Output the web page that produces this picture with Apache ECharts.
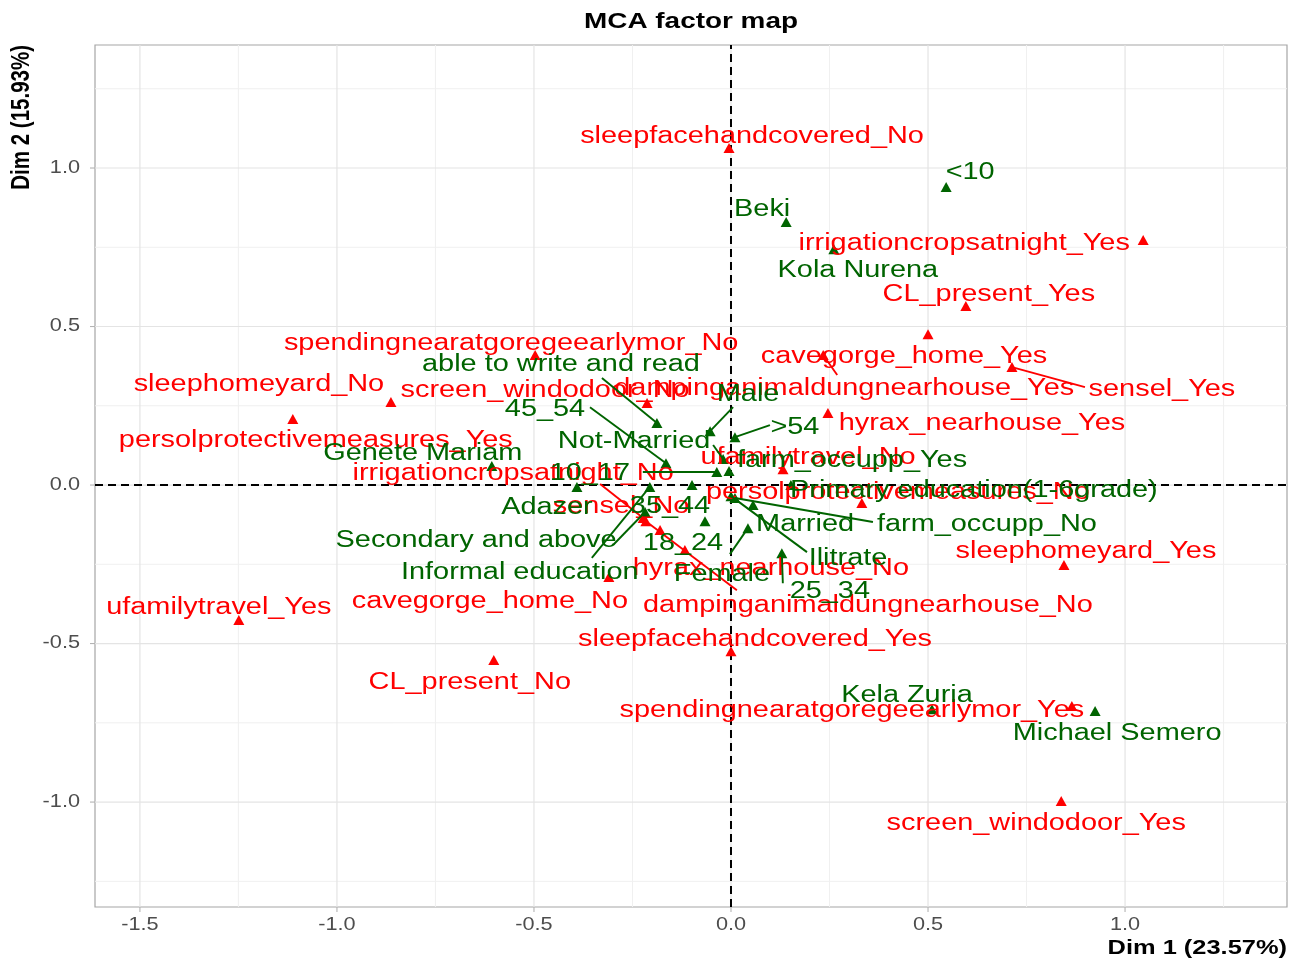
<!DOCTYPE html>
<html>
<head>
<meta charset="utf-8">
<title>MCA factor map</title>
<script src="https://cdn.jsdelivr.net/npm/echarts@6/dist/echarts.min.js"></script>
<style>
  html, body { margin: 0; padding: 0; background: #ffffff; }
  #main { width: 1303px; height: 961px; }
</style>
</head>
<body>
<div id="main"></div>
<script>
// Active variable categories (coordinates on Dim 1 / Dim 2)
const activeNames = [
  'sleepfacehandcovered_No', 'irrigationcropsatnight_Yes', 'CL_present_Yes', 'cavegorge_home_Yes',
  'spendingnearatgoregeearlymor_No', 'dampinganimaldungnearhouse_Yes', 'sensel_Yes', 'sleephomeyard_No',
  'screen_windodoor_No', 'hyrax_nearhouse_Yes', 'persolprotectivemeasures_Yes', 'ufamilytravel_No',
  'persolprotectivemeasures_No', 'sleephomeyard_Yes', 'irrigationcropsatnight_No', 'dampinganimaldungnearhouse_No',
  'sensel_No', 'hyrax_nearhouse_No', 'cavegorge_home_No', 'ufamilytravel_Yes',
  'sleepfacehandcovered_Yes', 'CL_present_No', 'spendingnearatgoregeearlymor_Yes', 'screen_windodoor_Yes'
];
const activeDim1 = [
  -0.005, 1.046, 0.596, 0.500,
  -0.497, 0.234, 0.713, -0.863,
  -0.213, 0.246, -1.112, 0.132,
  0.332, 0.845, -0.223, -0.216,
  -0.180, -0.117, -0.310, -1.249,
  0.000, -0.602, 0.865, 0.838
];
const activeDim2 = [
  1.063, 0.773, 0.565, 0.476,
  0.410, 0.410, 0.372, 0.262,
  0.259, 0.227, 0.208, 0.050,
  -0.057, -0.252, -0.104, -0.114,
  -0.142, -0.205, -0.290, -0.426,
  -0.524, -0.552, -0.697, -0.997
];

// Supplementary categories
const suppNames = [
  '<10', 'Beki', 'Kola Nurena', 'able to write and read',
  'Male', '>54', '45_54', 'Not-Married',
  'Genete Mariam', '10_17', 'farm_occupp_Yes', 'Adazer',
  'Informal education', '35_44', 'Primary education(1-6grade)', 'Secondary and above',
  '18_24', 'Ilitrate', 'farm_occupp_No', 'Married',
  'Female', '25_34', 'Kela Zuria', 'Michael Semero'
];
const suppDim1 = [
  0.546, 0.140, 0.261, -0.188,
  -0.053, 0.010, -0.165, -0.020,
  -0.607, -0.036, -0.005, -0.391,
  -0.206, -0.099, 0.152, -0.218,
  -0.066, 0.000, 0.010, 0.056,
  0.043, 0.129, 0.510, 0.924
];
const suppDim2 = [
  0.940, 0.830, 0.744, 0.196,
  0.170, 0.151, 0.069, 0.082,
  0.060, 0.041, 0.044, -0.006,
  -0.006, 0.000, 0.000, -0.085,
  -0.114, -0.035, -0.041, -0.063,
  -0.136, -0.215, -0.707, -0.713
];

// Axis ticks
const xTicks = [-1.5, -1.0, -0.5, 0.0, 0.5, 1.0];
const yTicks = [-1.0, -0.5, 0.0, 0.5, 1.0];
const xMinorTicks = [-1.25, -0.75, -0.25, 0.25, 0.75, 1.25];
const yMinorTicks = [-1.25, -0.75, -0.25, 0.25, 0.75, 1.25];

// Axis extents and titles
const X_MIN = -1.614, X_MAX = 1.411;
const Y_MIN = -1.331, Y_MAX = 1.388;
const chartTitle = 'MCA factor map';
const xTitle = 'Dim 1 (23.57%)';
const yTitle = 'Dim 2 (15.93%)';

// Repelled label placement in px relative to each point:
// [label dx, label dy, (segment end dx, segment end dy)]
const activeLabelPos = [
  [23, -13], [-179, 2], [23, -13], [-24, 20],
  [-24, -13], [21, 32, 14, 20], [150, 20, 73, 20], [-132, -19],
  [-102, -14], [154, 9], [23, 19], [25, -14],
  [36, -13], [22, -15], [-130, -46, -43, -34], [222, 82, 91, 69],
  [-39, -25], [86, 17], [-119, 23], [-20, -15],
  [24, -14], [-24, 21], [-220, 3], [-25, 20]
];
const suppLabelPos = [
  [24, -16], [-24, -14], [24, 19], [-96, -60, -55, -45],
  [38, -39, 23, -24], [60, -12, 35, -12], [-121, -56, -76, -56], [-89, -19, -10, -14],
  [-69, -14], [-127, 0, -74, 0], [123, -13], [-30, 19],
  [-130, 84, -58, 71], [-22, 20], [183, 4], [-169, 27, -32, 33],
  [-22, 20], [117, 60, 76, 56], [252, 25, 138, 24], [52, 18],
  [-26, 44, -18, 26], [48, 36, 1, 30], [-25, -16], [22, 20]
];

const RED = '#ff0000';
const GREEN = '#006400';
const FONT = "'Liberation Sans', Arial, Helvetica, sans-serif";
const SX = 1.24;          // horizontal text stretch
const LABEL_SIZE = 23.3;
const TICK_SIZE = 17.5;
const LABEL_BASE_SHIFT = 2;

function labelSeries(names, xs, ys, pos, color, z) {
  return {
    type: 'custom',
    coordinateSystem: 'cartesian2d',
    silent: true,
    z: z,
    clip: false,
    data: names.map((n, i) => [xs[i], ys[i], i]),
    renderItem: function (params, api) {
      const i = api.value(2);
      const p = api.coord([api.value(0), api.value(1)]);
      const L = pos[i];
      const children = [];
      if (L.length > 2) {
        children.push({
          type: 'line',
          shape: { x1: p[0], y1: p[1], x2: p[0] + L[2], y2: p[1] + L[3] },
          style: { stroke: color, lineWidth: 1.9 }
        });
      }
      children.push({
        type: 'text',
        x: p[0] + L[0],
        y: p[1] + L[1] + LABEL_BASE_SHIFT,
        scaleX: SX,
        style: {
          text: names[i], x: 0, y: 0,
          fill: color, fontSize: LABEL_SIZE, fontFamily: FONT,
          align: 'center', verticalAlign: 'middle',
          textAlign: 'center', textVerticalAlign: 'middle'
        }
      });
      return { type: 'group', children: children };
    }
  };
}

function fmt(v) { return v.toFixed(1); }

// Panel grid lines (kind 0: vertical, 1: horizontal; weight 0 minor, 1 major, 2 origin)
const gridItems = []
  .concat(xMinorTicks.map(v => [v, 0, 0, 0]))
  .concat(yMinorTicks.map(v => [0, v, 1, 0]))
  .concat(xTicks.map(v => [v, 0, 0, 1]))
  .concat(yTicks.map(v => [0, v, 1, 1]))
  .concat([[0, 0, 0, 2], [0, 0, 1, 2]]);

const gridSeries = {
  type: 'custom',
  coordinateSystem: 'cartesian2d',
  silent: true,
  clip: false,
  z: 1,
  data: gridItems,
  renderItem: function (params, api) {
    const vert = api.value(2) === 0;
    const w = api.value(3);
    let a, b;
    if (vert) {
      a = api.coord([api.value(0), Y_MIN]);
      b = api.coord([api.value(0), Y_MAX]);
    } else {
      a = api.coord([X_MIN, api.value(1)]);
      b = api.coord([X_MAX, api.value(1)]);
    }
    let style;
    if (w === 0) style = { stroke: '#f0f0f0', lineWidth: 1 };
    else if (w === 1) style = { stroke: '#e4e4e4', lineWidth: 1.2 };
    else style = { stroke: '#000000', lineWidth: 2, lineDash: [8, 5] };
    return {
      type: 'line',
      z2: w,
      shape: { x1: a[0], y1: a[1], x2: b[0], y2: b[1] },
      style: style
    };
  }
};

// Tick marks and tick labels outside the panel
const tickItems = xTicks.map(v => [v, Y_MIN, 0]).concat(yTicks.map(v => [X_MIN, v, 1]));
const axisDecor = {
  type: 'custom',
  coordinateSystem: 'cartesian2d',
  silent: true,
  clip: false,
  z: 5,
  data: tickItems,
  renderItem: function (params, api) {
    const kind = api.value(2);
    const p = api.coord([api.value(0), api.value(1)]);
    if (kind === 0) {
      return {
        type: 'group', children: [
          { type: 'line', shape: { x1: p[0], y1: p[1], x2: p[0], y2: p[1] + 5 }, style: { stroke: '#b3b3b3', lineWidth: 1.1 } },
          { type: 'text', x: p[0], y: p[1] + 18, scaleX: SX,
            style: { text: fmt(api.value(0)), x: 0, y: 0, fill: '#4d4d4d', fontSize: TICK_SIZE, fontFamily: FONT,
              align: 'center', verticalAlign: 'middle', textAlign: 'center', textVerticalAlign: 'middle' } }
        ]
      };
    }
    return {
      type: 'group', children: [
        { type: 'line', shape: { x1: p[0] - 5, y1: p[1], x2: p[0], y2: p[1] }, style: { stroke: '#b3b3b3', lineWidth: 1.1 } },
        { type: 'text', x: p[0] - 15, y: p[1], scaleX: SX,
          style: { text: fmt(api.value(1)), x: 0, y: 0, fill: '#4d4d4d', fontSize: TICK_SIZE, fontFamily: FONT,
            align: 'right', verticalAlign: 'middle', textAlign: 'right', textVerticalAlign: 'middle' } }
      ]
    };
  }
};

const chart = echarts.init(document.getElementById('main'), null, { renderer: 'canvas' });

chart.setOption({
  animation: false,
  backgroundColor: '#ffffff',
  grid: {
    left: 95, top: 45, right: 16, bottom: 54,
    show: true, borderColor: '#a6a6a6', borderWidth: 1.2, backgroundColor: 'transparent'
  },
  xAxis: {
    type: 'value', min: X_MIN, max: X_MAX,
    axisLine: { show: false }, axisTick: { show: false }, axisLabel: { show: false }, splitLine: { show: false }
  },
  yAxis: {
    type: 'value', min: Y_MIN, max: Y_MAX,
    axisLine: { show: false }, axisTick: { show: false }, axisLabel: { show: false }, splitLine: { show: false }
  },
  graphic: [
    { type: 'text', x: 691, y: 22, scaleX: SX, z: 10,
      style: { text: chartTitle, fill: '#000', fontSize: 22.5, fontWeight: 'bold', fontFamily: FONT,
        align: 'center', verticalAlign: 'middle', textAlign: 'center', textVerticalAlign: 'middle' } },
    { type: 'text', x: 1287, y: 948, scaleX: SX, z: 10,
      style: { text: xTitle, fill: '#000', fontSize: 20.5, fontWeight: 'bold', fontFamily: FONT,
        align: 'right', verticalAlign: 'middle', textAlign: 'right', textVerticalAlign: 'middle' } },
    { type: 'text', x: 22, y: 45, rotation: Math.PI / 2, scaleY: SX, z: 10,
      style: { text: yTitle, fill: '#000', fontSize: 20.5, fontWeight: 'bold', fontFamily: FONT,
        align: 'right', verticalAlign: 'middle', textAlign: 'right', textVerticalAlign: 'middle' } }
  ],
  series: [
    gridSeries,
    axisDecor,
    {
      name: 'Active', type: 'scatter', symbol: 'triangle', symbolSize: [11, 10], z: 3,
      itemStyle: { color: RED, opacity: 1 },
      data: activeDim1.map((v, i) => [v, activeDim2[i]])
    },
    {
      name: 'Supplementary', type: 'scatter', symbol: 'triangle', symbolSize: [11, 10], z: 3,
      itemStyle: { color: GREEN, opacity: 1 },
      data: suppDim1.map((v, i) => [v, suppDim2[i]])
    },
    labelSeries(activeNames, activeDim1, activeDim2, activeLabelPos, RED, 4),
    labelSeries(suppNames, suppDim1, suppDim2, suppLabelPos, GREEN, 4)
  ]
});
</script>
</body>
</html>
